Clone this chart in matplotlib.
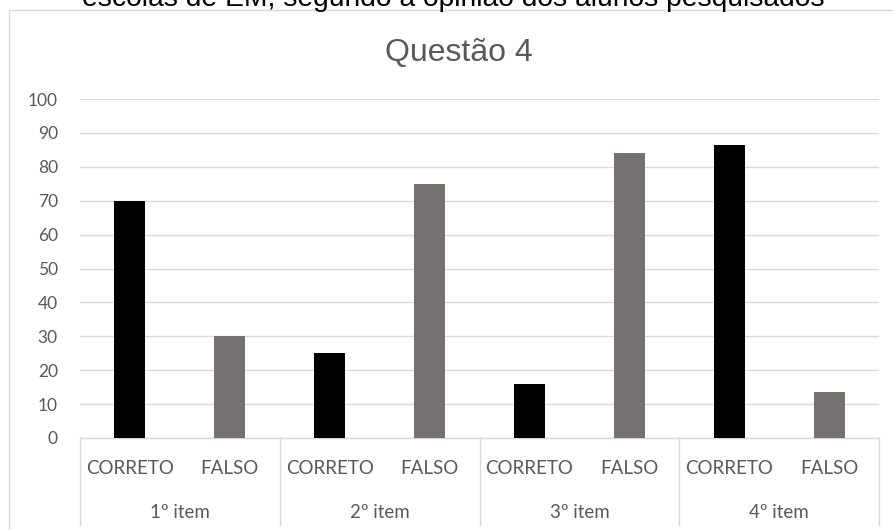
import matplotlib.pyplot as plt
from matplotlib.patches import Rectangle

itens = ['1º item', '2º item', '3º item', '4º item']
respostas = ['CORRETO', 'FALSO']
valores = [70, 30, 25, 75, 16, 84, 86.4, 13.6]
yticks = list(range(0, 101, 10))

cor_texto = '#595959'
cor_grade = '#D9D9D9'
cores = ['#000000', '#767171'] * len(itens)

fig = plt.figure(figsize=(8.93, 5.30), dpi=100)
fig.set_facecolor('white')
ax = fig.add_axes([80 / 893, 1 - 438 / 530, 799 / 893, 339 / 530])

x = list(range(len(valores)))
ax.bar(x, valores, width=0.31, color=cores, zorder=3)

ax.set_xlim(-0.5, len(valores) - 0.5)
ax.set_ylim(0, 100)
ax.set_yticks(yticks)
ax.set_yticklabels([str(v) for v in yticks], family='Lato', fontsize=12.5, color=cor_texto)
ax.tick_params(axis='y', length=0, pad=16)
ax.yaxis.grid(True, color=cor_grade, linewidth=1.0, zorder=0)
ax.set_axisbelow(True)
for s in ['top', 'right', 'left']:
    ax.spines[s].set_visible(False)
ax.spines['bottom'].set_color(cor_grade)
ax.spines['bottom'].set_linewidth(1.0)

# eixo x em dois niveis
ax.set_xticks([])
tr = ax.get_xaxis_transform()
for i in x:
    ax.text(i, -30 / 339, respostas[i % 2], transform=tr, ha='center', va='center',
            family='Lato', fontsize=13.5, color=cor_texto)
for g, nome in enumerate(itens):
    ax.text(2 * g + 0.5, -74 / 339, nome, transform=tr, ha='center', va='center',
            family='Lato', fontsize=13.5, color=cor_texto)
for xs in [-0.5, 1.5, 3.5, 5.5, 7.5]:
    ax.plot([xs, xs], [0, -87 / 339], transform=tr, color=cor_grade,
            linewidth=1.0, clip_on=False)

# moldura do grafico
fig.patches.append(Rectangle((9 / 893, -0.1), 1.0, 0.981 + 0.1, transform=fig.transFigure,
                             fill=False, edgecolor=cor_grade, linewidth=1.0))

fig.text(459 / 893, 1 - 61 / 530, 'Questão 4', ha='center', va='baseline',
         family='Liberation Sans', fontsize=23, color=cor_texto)
fig.text(453 / 893, 1 - 6 / 530, 'escolas de EM, segundo a opinião dos alunos pesquisados',
         ha='center', va='baseline', family='Liberation Sans', fontsize=20.3, color='black')

fig.savefig('out.png', dpi=100, facecolor='white')
